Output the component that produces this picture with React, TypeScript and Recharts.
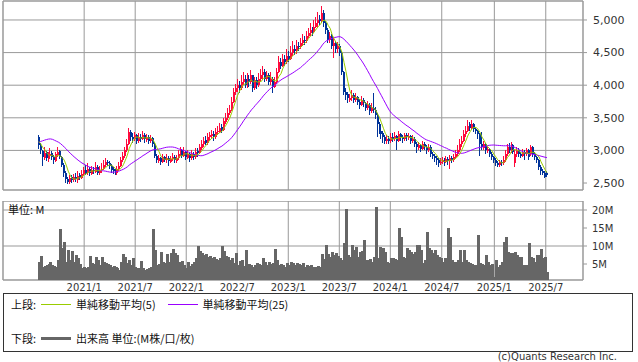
import React from 'react';
import { ComposedChart, Bar, Line, XAxis, YAxis, CartesianGrid, ReferenceArea } from 'recharts';

// week index of each half-year grid line, and its label
const TICK_POS = [23.1, 49, 74.9, 100.8, 126.7, 152.6, 178.5, 204.6, 231.3, 257.4];
const TICK_LABELS = ['2021/1', '2021/7', '2022/1', '2022/7', '2023/1', '2023/7', '2024/1', '2024/7', '2025/1', '2025/7'];
const PRICE_TICKS = [2500, 3000, 3500, 4000, 4500, 5000];
const VOLUME_TICKS = [5, 10, 15, 20];

// closes of the 24 weeks before the first candle (only used for the moving averages)
const PRE_CLOSE = [2600, 2650, 2700, 2650, 2750, 2900, 3050, 3200, 3300, 3350, 3400, 3450, 3350, 3300, 3400, 3300, 3250, 3300, 3200, 3250, 3150, 3200, 3100, 3150];

const OPEN = [
  3200, 3070, 2990, 2890, 2970, 2870, 2920, 2960, 2900, 2840,
  2930, 2990, 2900, 2780, 2650, 2560, 2510, 2590, 2540, 2600,
  2550, 2620, 2580, 2640, 2700, 2650, 2720, 2640, 2700, 2670,
  2740, 2650, 2700, 2720, 2770, 2830, 2800, 2760, 2710, 2680,
  2650, 2710, 2760, 2850, 2910, 3000, 3100, 3280, 3200, 3170,
  3230, 3150, 3210, 3180, 3240, 3160, 3200, 3150, 3190, 3100,
  2920, 2840, 2880, 2830, 2900, 2850, 2880, 2830, 2870, 2900,
  2840, 2880, 2950, 3000, 2920, 2970, 2890, 2950, 2880, 2950,
  2900, 2990, 2960, 3040, 3100, 3160, 3110, 3200, 3220, 3250,
  3200, 3280, 3290, 3360, 3320, 3440, 3500, 3580, 3620, 3750,
  3900, 3950, 4010, 3950, 4050, 4100, 4000, 4100, 4050, 4150,
  3950, 4080, 4000, 4100, 4150, 4200, 4100, 4150, 4050, 4100,
  3980, 4050, 4200, 4350, 4300, 4400, 4350, 4450, 4400, 4500,
  4560, 4520, 4600, 4580, 4650, 4700, 4680, 4750, 4800, 4850,
  4820, 4900, 4950, 5010, 4980, 5100, 4950, 4850, 4700, 4750,
  4600, 4650, 4550, 4600, 4500, 4200, 3900, 3860, 3780, 3800,
  3850, 3770, 3820, 3750, 3700, 3780, 3720, 3650, 3700, 3600,
  3650, 3620, 3550, 3400, 3300, 3260, 3200, 3140, 3180, 3150,
  3210, 3170, 3220, 3150, 3250, 3200, 3180, 3230, 3190, 3220,
  3150, 3180, 3100, 3040, 3080, 3020, 3100, 3050, 3000, 3060,
  2950, 2920, 2880, 2850, 2800, 2820, 2850, 2820, 2870, 2840,
  2880, 2850, 2900, 2950, 3000, 3100, 3150, 3250, 3300, 3400,
  3350, 3400, 3330, 3300, 3250, 3100, 3040, 3100, 2990, 3020,
  2950, 2900, 2850, 2810, 2780, 2830, 2800, 2850, 2950, 3050,
  3000, 3080, 2800, 2950, 3000, 2950, 2920, 2980, 2950, 3000,
  2950, 3050, 2950, 2900, 2850, 2750, 2690, 2660, 2650,
];

const HIGH = [
  3230, 3120, 3010, 3050, 2990, 2980, 3030, 2990, 2930, 2980,
  3050, 3010, 2920, 2800, 2680, 2600, 2620, 2630, 2640, 2650,
  2680, 2650, 2700, 2750, 2770, 2800, 2740, 2760, 2750, 2830,
  2770, 2760, 2800, 2850, 2880, 2860, 2840, 2790, 2740, 2720,
  2760, 2820, 2900, 2970, 3060, 3180, 3340, 3310, 3260, 3290,
  3250, 3260, 3250, 3300, 3260, 3250, 3230, 3240, 3200, 3120,
  2950, 2930, 2900, 2950, 2920, 2940, 2910, 2920, 2960, 2930,
  2930, 3000, 3060, 3020, 3050, 2990, 3000, 2970, 3000, 2980,
  3030, 3030, 3100, 3160, 3200, 3220, 3260, 3290, 3320, 3300,
  3350, 3380, 3420, 3400, 3500, 3580, 3650, 3700, 3820, 3960,
  4020, 4100, 4060, 4150, 4200, 4160, 4180, 4150, 4230, 4160,
  4130, 4120, 4180, 4250, 4300, 4250, 4220, 4180, 4200, 4120,
  4120, 4260, 4450, 4420, 4480, 4460, 4550, 4520, 4600, 4680,
  4620, 4700, 4660, 4720, 4780, 4760, 4830, 4880, 4950, 4900,
  5000, 5050, 5120, 5080, 5220, 5150, 4980, 4880, 4820, 4780,
  4720, 4680, 4670, 4630, 4520, 4220, 3950, 3900, 3870, 3920,
  3880, 3880, 3840, 3790, 3830, 3800, 3750, 3760, 3720, 3720,
  3880, 3660, 3580, 3430, 3340, 3300, 3240, 3230, 3220, 3260,
  3270, 3280, 3240, 3300, 3270, 3240, 3270, 3260, 3260, 3240,
  3230, 3200, 3130, 3130, 3100, 3150, 3130, 3080, 3100, 3080,
  2980, 2950, 2920, 2880, 2880, 2900, 2880, 2920, 2900, 2930,
  2910, 2950, 3000, 3080, 3180, 3220, 3320, 3380, 3460, 3440,
  3460, 3420, 3360, 3320, 3260, 3280, 3150, 3120, 3060, 3040,
  2980, 2920, 2880, 2840, 2860, 2860, 2920, 3000, 3100, 3120,
  3130, 3100, 3000, 3050, 3030, 2980, 3020, 3000, 3040, 3020,
  3080, 3070, 2970, 2920, 2870, 2770, 2720, 2690, 2680,
];

const LOW = [
  3020, 2950, 2760, 2860, 2840, 2830, 2880, 2850, 2790, 2820,
  2900, 2870, 2740, 2600, 2500, 2480, 2490, 2500, 2510, 2520,
  2500, 2540, 2560, 2610, 2620, 2630, 2610, 2620, 2640, 2650,
  2620, 2630, 2660, 2700, 2750, 2760, 2720, 2660, 2640, 2620,
  2630, 2690, 2740, 2820, 2890, 2980, 3080, 3150, 3120, 3140,
  3100, 3120, 3130, 3160, 3120, 3130, 3100, 3120, 3050, 2880,
  2800, 2810, 2780, 2800, 2820, 2800, 2760, 2800, 2840, 2810,
  2800, 2850, 2920, 2880, 2900, 2850, 2870, 2830, 2850, 2860,
  2870, 2900, 2940, 3000, 3060, 3080, 3090, 3150, 3180, 3150,
  3180, 3230, 3260, 3270, 3300, 3400, 3460, 3540, 3600, 3720,
  3850, 3900, 3880, 3920, 4000, 3950, 3960, 3980, 4020, 3900,
  3920, 3940, 3970, 4050, 4100, 4050, 4060, 4000, 4000, 3880,
  3950, 4020, 4180, 4250, 4280, 4300, 4320, 4350, 4380, 4450,
  4460, 4480, 4520, 4550, 4600, 4620, 4650, 4720, 4760, 4760,
  4800, 4870, 4900, 4920, 4950, 4900, 4780, 4650, 4650, 4550,
  4420, 4500, 4500, 4450, 4150, 3850, 3780, 3720, 3740, 3760,
  3720, 3740, 3700, 3640, 3680, 3660, 3600, 3620, 3550, 3570,
  3580, 3480, 3210, 3250, 3180, 3120, 3100, 3100, 3100, 3120,
  3130, 3150, 3000, 3130, 3150, 3120, 3150, 3150, 3160, 3100,
  3110, 3050, 2960, 3000, 2970, 3000, 3000, 2950, 2980, 2900,
  2870, 2830, 2780, 2750, 2770, 2790, 2760, 2800, 2780, 2720,
  2800, 2820, 2870, 2920, 2980, 3060, 3130, 3200, 3280, 3300,
  3320, 3280, 3250, 3180, 2920, 3000, 3000, 2950, 2960, 2900,
  2850, 2800, 2760, 2740, 2740, 2760, 2780, 2820, 2920, 2960,
  2960, 2940, 2750, 2900, 2900, 2880, 2900, 2850, 2920, 2860,
  2920, 2900, 2860, 2800, 2700, 2630, 2620, 2580, 2590,
];

const CLOSE = [
  3080, 3000, 2900, 2960, 2880, 2930, 2950, 2900, 2850, 2940,
  2980, 2900, 2780, 2650, 2560, 2520, 2580, 2540, 2600, 2560,
  2610, 2590, 2640, 2700, 2660, 2720, 2650, 2700, 2680, 2740,
  2660, 2700, 2720, 2780, 2820, 2800, 2760, 2700, 2680, 2650,
  2720, 2760, 2850, 2920, 3000, 3100, 3280, 3200, 3180, 3230,
  3150, 3200, 3180, 3240, 3170, 3200, 3150, 3190, 3100, 2920,
  2850, 2880, 2830, 2900, 2860, 2880, 2840, 2870, 2900, 2850,
  2880, 2950, 3000, 2920, 2970, 2900, 2950, 2880, 2950, 2900,
  2980, 2960, 3050, 3100, 3150, 3120, 3200, 3230, 3250, 3200,
  3280, 3300, 3350, 3320, 3450, 3500, 3580, 3620, 3750, 3900,
  3950, 4000, 3950, 4050, 4100, 4000, 4100, 4050, 4150, 3950,
  4080, 4000, 4100, 4150, 4200, 4100, 4150, 4050, 4100, 3980,
  4050, 4200, 4350, 4300, 4400, 4350, 4450, 4400, 4500, 4550,
  4520, 4600, 4580, 4650, 4700, 4680, 4750, 4800, 4850, 4820,
  4900, 4950, 5000, 4980, 5100, 4950, 4850, 4700, 4750, 4600,
  4650, 4550, 4600, 4500, 4200, 3900, 3850, 3800, 3800, 3850,
  3780, 3820, 3750, 3700, 3780, 3720, 3650, 3700, 3600, 3650,
  3620, 3550, 3400, 3300, 3250, 3200, 3150, 3180, 3150, 3200,
  3180, 3220, 3150, 3250, 3200, 3180, 3230, 3200, 3220, 3150,
  3180, 3100, 3050, 3080, 3020, 3100, 3050, 3000, 3060, 2950,
  2920, 2880, 2850, 2800, 2830, 2850, 2820, 2870, 2840, 2880,
  2850, 2900, 2950, 3000, 3100, 3150, 3250, 3300, 3380, 3350,
  3400, 3330, 3300, 3250, 3100, 3050, 3100, 3000, 3020, 2950,
  2900, 2850, 2800, 2780, 2820, 2800, 2850, 2950, 3050, 3000,
  3080, 2980, 2950, 3000, 2950, 2920, 2980, 2950, 3000, 2900,
  3050, 2950, 2900, 2850, 2750, 2680, 2650, 2600, 2620,
];

// weekly volume, millions
const VOLUME = [
  5.6, 7.2, 4.3, 4.5, 4.7, 4.9, 5.6, 4.7, 4.5, 4.3,
  6.0, 14.7, 9.4, 11.2, 5.6, 8.9, 6.0, 8.6, 5.6, 7.5,
  6.6, 5.0, 3.8, 4.2, 3.8, 4.3, 7.2, 5.2, 5.0, 6.9,
  6.1, 4.8, 6.9, 5.6, 5.2, 5.0, 4.7, 4.3, 4.5, 4.3,
  3.9, 3.3, 5.6, 7.8, 7.0, 5.4, 6.1, 4.8, 6.6, 4.3,
  3.8, 3.8, 5.8, 3.9, 3.3, 3.5, 3.8, 4.3, 14.7, 8.9,
  4.7, 5.0, 8.3, 5.6, 5.2, 7.7, 5.5, 8.0, 9.1, 8.0,
  7.5, 5.6, 4.9, 5.8, 4.7, 3.8, 5.6, 4.4, 5.0, 5.6,
  6.6, 10.1, 8.6, 8.0, 7.5, 7.7, 6.9, 7.2, 6.6, 7.0,
  6.4, 6.1, 6.6, 10.0, 8.6, 7.3, 7.0, 6.0, 6.6, 5.2,
  8.1, 4.7, 5.9, 6.2, 4.5, 8.9, 4.7, 4.9, 4.7, 4.3,
  4.7, 5.2, 4.9, 4.7, 6.8, 5.6, 4.7, 5.6, 5.0, 5.2,
  9.1, 6.1, 4.7, 4.9, 4.7, 4.3, 5.2, 4.8, 5.6, 5.2,
  4.7, 5.2, 4.9, 4.7, 5.2, 4.3, 4.7, 4.4, 4.6, 4.3,
  4.0, 4.3, 4.4, 4.3, 7.8, 6.5, 10.3, 7.8, 7.0, 8.2,
  7.5, 8.0, 7.2, 6.6, 6.1, 10.9, 20.3, 7.5, 6.9, 10.3,
  8.9, 9.8, 6.9, 8.4, 8.6, 11.7, 6.1, 6.1, 6.3, 5.6,
  7.0, 20.7, 6.6, 9.6, 9.0, 9.4, 8.4, 5.6, 5.2, 6.8,
  6.6, 6.4, 6.0, 15.1, 12.6, 7.0, 6.6, 9.4, 9.0, 8.4,
  7.8, 8.4, 10.3, 10.3, 8.9, 5.2, 6.0, 14.0, 9.4, 8.9,
  8.0, 8.9, 7.5, 7.0, 6.6, 5.6, 6.6, 5.6, 15.1, 12.6,
  6.0, 5.6, 5.6, 6.1, 8.9, 5.6, 8.9, 6.1, 5.6, 5.2,
  5.0, 4.7, 4.7, 13.0, 5.2, 5.0, 4.7, 7.5, 5.6, 4.7,
  5.0, 1.5, 6.1, 4.3, 4.7, 5.6, 11.2, 12.6, 8.4, 8.0,
  8.0, 6.6, 8.4, 7.5, 7.0, 7.0, 4.7, 4.7, 4.7, 10.7,
  7.0, 6.6, 5.6, 7.5, 7.5, 9.3, 6.6, 7.0, 2.9,
];

const UP = '#ff0a3c';
const DOWN = '#003399';
const GRID = '#999999';
const X_DOMAIN: [number, number] = [-18.1, 276.3];
const PRICE_DOMAIN: [number, number] = [2393, 5291];
const VOLUME_DOMAIN: [number, number] = [0.56, 22.5];

const allCloses = [...PRE_CLOSE, ...CLOSE];
const sma = (n: number, i: number) => {
  const end = i + PRE_CLOSE.length;
  let s = 0;
  for (let k = end - n + 1; k <= end; k++) s += allCloses[k];
  return s / n;
};

const data = CLOSE.map((close, i) => ({
  i,
  open: OPEN[i],
  high: HIGH[i],
  low: LOW[i],
  close,
  range: [LOW[i], HIGH[i]],
  volume: VOLUME[i],
  ma5: sma(5, i),
  ma25: sma(25, i),
}));

const Candle = (props: any) => {
  const { x, y, width, height, payload } = props;
  if (x == null || !payload) return null;
  const { open, close, high, low } = payload;
  const top = Math.min(y, y + height);
  const h = Math.abs(height);
  const ratio = high === low ? 0 : h / (high - low);
  const yo = top + (high - open) * ratio;
  const yc = top + (high - close) * ratio;
  const color = close >= open ? UP : DOWN;
  const left = Math.round(x);
  return (
    <g shapeRendering="crispEdges">
      <rect x={left} y={top} width={1} height={Math.max(1, h)} fill={color} />
      <rect x={left} y={Math.min(yo, yc)} width={2} height={Math.max(1, Math.abs(yo - yc))} fill={color} />
    </g>
  );
};

// bars are drawn one pixel wider than the step so neighbours meet without gaps
const VolumeBar = (props: any) => {
  const { x, y, height } = props;
  if (x == null) return null;
  return <rect x={Math.round(x)} y={y} width={3} height={Math.max(0, height)} fill="#666666" shapeRendering="crispEdges" />;
};

const tickFont = { fontSize: 11, fill: '#333', fontFamily: 'DejaVu Sans' };
const cjk = '"Noto Sans CJK JP", sans-serif';

export default function App() {
  return (
    <div style={{ position: 'absolute', left: 0, top: 0, width: 638, height: 362, background: '#fff', fontFamily: 'DejaVu Sans' }}>
      <div style={{ position: 'absolute', left: 0, top: 0 }}>
        <ComposedChart width={638} height={191} data={data} margin={{ top: 1, right: 0, bottom: 1, left: 3 }}>
          <CartesianGrid stroke={GRID} />
          <XAxis dataKey="i" type="number" domain={X_DOMAIN} ticks={TICK_POS} hide allowDataOverflow />
          <YAxis
            orientation="right"
            width={55}
            domain={PRICE_DOMAIN}
            ticks={PRICE_TICKS}
            allowDataOverflow
            axisLine={false}
            tickLine={{ stroke: GRID }}
            tickSize={4}
            tickMargin={6}
            tick={tickFont}
            tickFormatter={(v: number) => v.toLocaleString('en-US')}
          />
          <ReferenceArea x1={X_DOMAIN[0]} x2={X_DOMAIN[1]} y1={PRICE_DOMAIN[0]} y2={PRICE_DOMAIN[1]} fill="none" stroke={GRID} />
          <Bar dataKey="range" shape={Candle} barSize={2} isAnimationActive={false} />
          <Line dataKey="ma25" stroke="#9900ff" strokeWidth={1} dot={false} isAnimationActive={false} />
          <Line dataKey="ma5" stroke="#99cc00" strokeWidth={1} dot={false} isAnimationActive={false} />
        </ComposedChart>
      </div>

      <div style={{ position: 'absolute', left: 0, top: 201 }}>
        <ComposedChart width={638} height={95} data={data} margin={{ top: 0, right: 0, bottom: 0, left: 3 }}>
          <CartesianGrid stroke={GRID} />
          <XAxis
            dataKey="i"
            type="number"
            domain={X_DOMAIN}
            ticks={TICK_POS}
            allowDataOverflow
            interval={0}
            height={16}
            axisLine={false}
            tickLine={false}
            tickSize={0}
            tickMargin={4}
            tick={{ ...tickFont, fontSize: 10 }}
            tickFormatter={(v: number) => TICK_LABELS[TICK_POS.indexOf(v)] ?? ''}
          />
          <YAxis
            orientation="right"
            width={55}
            domain={VOLUME_DOMAIN}
            ticks={VOLUME_TICKS}
            allowDataOverflow
            axisLine={false}
            tickLine={{ stroke: GRID }}
            tickSize={4}
            tickMargin={5}
            tick={{ ...tickFont, fontSize: 10 }}
            tickFormatter={(v: number) => `${v}M`}
          />
          <Bar dataKey="volume" shape={VolumeBar} barSize={2} isAnimationActive={false} />
          <ReferenceArea x1={X_DOMAIN[0]} x2={X_DOMAIN[1]} y1={VOLUME_DOMAIN[0]} y2={VOLUME_DOMAIN[1]} fill="none" stroke={GRID} />
        </ComposedChart>
      </div>

      <div style={{ position: 'absolute', left: 8, top: 202, fontSize: 11, fontFamily: cjk, color: '#111', lineHeight: '14px' }}>単位: M</div>

      <div style={{ position: 'absolute', left: 3, top: 293, width: 630, height: 59, boxSizing: 'border-box', border: '1px solid #333', fontFamily: cjk, fontSize: 11, color: '#111' }}>
        <div style={{ position: 'absolute', left: 7, top: 3, lineHeight: '14px', whiteSpace: 'nowrap', display: 'flex', alignItems: 'center' }}>
          <span>上段:</span>
          <span style={{ display: 'inline-block', width: 30, height: 1, background: '#99cc00', marginLeft: 5, marginRight: 5 }} />
          <span>単純移動平均(5)</span>
          <span style={{ display: 'inline-block', width: 30, height: 1, background: '#9900ff', marginLeft: 12, marginRight: 5 }} />
          <span>単純移動平均(25)</span>
        </div>
        <div style={{ position: 'absolute', left: 7, top: 37, lineHeight: '14px', whiteSpace: 'nowrap', display: 'flex', alignItems: 'center' }}>
          <span>下段:</span>
          <span style={{ display: 'inline-block', width: 30, height: 3, background: '#666666', marginLeft: 5, marginRight: 5 }} />
          <span>出来高 単位:(M株/口/枚)</span>
        </div>
      </div>

      <div style={{ position: 'absolute', right: 21, top: 351, fontSize: 10, fontFamily: 'DejaVu Sans', color: '#333', lineHeight: '12px' }}>(c)Quants Research Inc.</div>
    </div>
  );
}
